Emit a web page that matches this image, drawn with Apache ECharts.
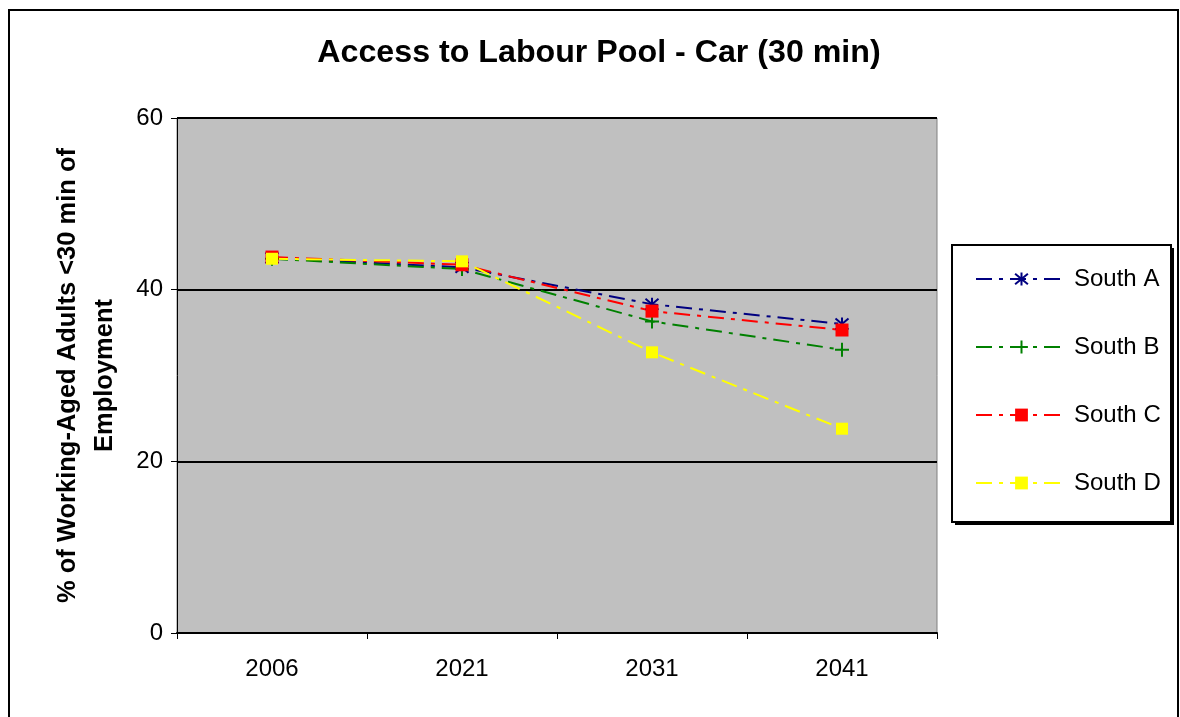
<!DOCTYPE html>
<html><head><meta charset="utf-8">
<script src="https://cdn.jsdelivr.net/npm/echarts@6/dist/echarts.min.js"></script>
<style>html,body{margin:0;padding:0;background:#fff}#c{width:1180px;height:717px}</style>
</head><body><div id="c"></div>
<script>
const years = ['2006','2021','2031','2041'];
const southA = [43.7, 42.6, 38.3, 36.0];
const southB = [43.6, 42.4, 36.3, 33.0];
const southC = [43.8, 42.9, 37.5, 35.3];
const southD = [43.6, 43.3, 32.7, 23.8];
const seriesNames = ['South A','South B','South C','South D'];
const yTicks = [0, 20, 40, 60];

const FONT = '"Liberation Sans", Arial, sans-serif';
const starPath = 'path://M0,0L10,10M10,0L0,10M5,-1L5,11';
const plusPath = 'path://M5,0L5,10M0,5L10,5';

function mk(name, data, color, symbol, size, dash, strokeSym) {
  return {
    name, type: 'line', data,
    symbol, symbolSize: size,
    lineStyle: { color, width: 2, type: dash },
    itemStyle: strokeSym ? { color: 'rgba(0,0,0,0)', borderColor: color, borderWidth: 2 } : { color, borderWidth: 0 },
    emphasis: { disabled: true },
    animation: false
  };
}

const chart = echarts.init(document.getElementById('c'));
chart.setOption({
  animation: false,
  backgroundColor: '#fff',
  title: {
    text: 'Access to Labour Pool - Car (30 min)',
    left: 594, top: 32, textAlign: 'center',
    textStyle: { fontFamily: FONT, fontSize: 32.2, fontWeight: 'bold', color: '#000' }
  },
  grid: { left: 177, right: 243, top: 118, bottom: 84, show: true, backgroundColor: '#c0c0c0', borderColor: '#808080', borderWidth: 1 },
  xAxis: {
    type: 'category', data: years, boundaryGap: true,
    axisLine: { lineStyle: { color: '#000', width: 2 } },
    axisTick: { show: true, length: 6, lineStyle: { color: '#000', width: 1 } },
    axisLabel: { fontFamily: FONT, fontSize: 24, color: '#000', margin: 24 }
  },
  yAxis: {
    type: 'value', min: yTicks[0], max: yTicks[yTicks.length-1], interval: 20,
    name: '% of Working-Aged Adults <30 min of\nEmployment',
    nameLocation: 'middle', nameGap: 54, nameRotate: 90,
    nameTextStyle: { fontFamily: FONT, fontSize: 25.5, fontWeight: 'bold', color: '#000', lineHeight: 37 },
    axisLine: { show: true, lineStyle: { color: '#000', width: 1 } },
    axisTick: { show: true, length: 6, inside: false, lineStyle: { color: '#000' } },
    axisLabel: { fontFamily: FONT, fontSize: 24, color: '#000', margin: 14 },
    splitLine: { show: true, lineStyle: { color: '#000', width: 2 } }
  },
  legend: {
    orient: 'vertical', left: 970, top: 262,
    itemWidth: 91, itemHeight: 16, itemGap: 44,
    textStyle: { fontFamily: FONT, fontSize: 24, color: '#000', padding: [0, 0, 0, 2] },
    data: seriesNames
  },
  graphic: [
    { type: 'rect', shape: { x: 9, y: 10, width: 1169, height: 720 }, style: { fill: 'none', stroke: '#000', lineWidth: 2 }, z: -1, silent: true },
    { type: 'rect', shape: { x: 955, y: 248, width: 219, height: 277 }, style: { fill: '#000' }, z: 0, silent: true },
    { type: 'rect', shape: { x: 952, y: 245, width: 219, height: 277 }, style: { fill: '#fff', stroke: '#000', lineWidth: 2 }, z: 0, silent: true }
  ],
  series: [
    mk(seriesNames[0], southA, '#000080', starPath, 13, [16, 7, 4, 7], true),
    mk(seriesNames[1], southB, '#008000', plusPath, 14, [16, 7, 4, 7], true),
    mk(seriesNames[2], southC, '#ff0000', 'rect', 13, [16, 7, 4, 7], false),
    mk(seriesNames[3], southD, '#ffff00', 'rect', 12, [16, 7, 4, 7], false)
  ]
});
</script></body></html>
